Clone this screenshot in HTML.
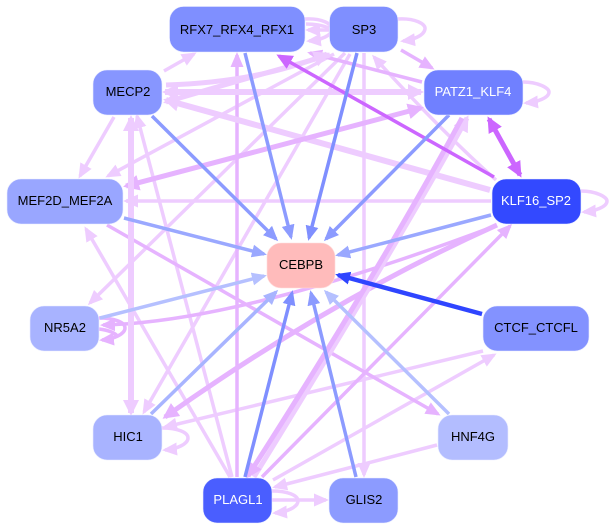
<!DOCTYPE html>
<html><head><meta charset="utf-8"><style>
html,body{margin:0;padding:0;background:#fff}
svg{display:block}
text{font-family:"Liberation Sans",sans-serif;font-size:13px;text-anchor:middle}
.l{stroke:#eeccff}.m{stroke:#e6b3ff}.p{stroke:#cc66ff}
</style></head><body>
<svg width="612" height="530" viewBox="0 0 612 530" xmlns="http://www.w3.org/2000/svg">
<defs>
<marker id="al" markerUnits="userSpaceOnUse" markerWidth="18" markerHeight="16" refX="12" refY="8" orient="auto-start-reverse"><path d="M0 1.500L15 8L0 14.500z" fill="#eeccff"/></marker>
<marker id="am" markerUnits="userSpaceOnUse" markerWidth="18" markerHeight="16" refX="12" refY="8" orient="auto-start-reverse"><path d="M0 1.500L15 8L0 14.500z" fill="#e6b3ff"/></marker>
<marker id="xl" markerUnits="userSpaceOnUse" markerWidth="20" markerHeight="20" refX="13" refY="10" orient="auto-start-reverse"><path d="M0 2L16 10L0 18z" fill="#eeccff"/></marker>
<marker id="xm" markerUnits="userSpaceOnUse" markerWidth="20" markerHeight="20" refX="13" refY="10" orient="auto-start-reverse"><path d="M0 2L16 10L0 18z" fill="#e6b3ff"/></marker>
<marker id="ap" markerUnits="userSpaceOnUse" markerWidth="20" markerHeight="20" refX="13" refY="10" orient="auto-start-reverse"><path d="M0 2.500L16 10L0 17.500z" fill="#cc66ff"/></marker>
<marker id="b1" markerUnits="userSpaceOnUse" markerWidth="18" markerHeight="16" refX="12" refY="8" orient="auto"><path d="M0 1.500L15 8L0 14.500z" fill="#8c9bff"/></marker>
<marker id="b2" markerUnits="userSpaceOnUse" markerWidth="18" markerHeight="16" refX="12" refY="8" orient="auto"><path d="M0 1.500L15 8L0 14.500z" fill="#7f8fff"/></marker>
<marker id="b3" markerUnits="userSpaceOnUse" markerWidth="18" markerHeight="16" refX="12" refY="8" orient="auto"><path d="M0 1.500L15 8L0 14.500z" fill="#9aa8ff"/></marker>
<marker id="b4" markerUnits="userSpaceOnUse" markerWidth="18" markerHeight="16" refX="12" refY="8" orient="auto"><path d="M0 1.500L15 8L0 14.500z" fill="#a8b4ff"/></marker>
<marker id="b5" markerUnits="userSpaceOnUse" markerWidth="18" markerHeight="16" refX="12" refY="8" orient="auto"><path d="M0 1.500L15 8L0 14.500z" fill="#b5c0ff"/></marker>
<marker id="b6" markerUnits="userSpaceOnUse" markerWidth="18" markerHeight="16" refX="12" refY="8" orient="auto"><path d="M0 1.500L15 8L0 14.500z" fill="#2f45ff"/></marker>
</defs>

<!-- pink edges -->
<g stroke-width="3.500" fill="none">
<path class="l" d="M164 71L194 54" marker-end="url(#al)"/>
<path class="l" d="M364 53L364 475" marker-end="url(#al)"/>
<path class="l" d="M114 117L80 176" marker-end="url(#al)"/>
<path class="l" d="M334 54L108 176" marker-end="url(#al)"/>
<path class="l" d="M345 53L90 303" marker-end="url(#al)"/>
<path class="l" d="M350 54L144 412" marker-end="url(#al)"/>
<path class="l" d="M126 201L491 201" marker-start="url(#al)"/>
<path class="l" d="M230 477L86 229" marker-end="url(#al)"/>
<path class="l" d="M137 116L232 477" marker-start="url(#al)"/>
<path class="l" d="M483 351L165 427" marker-end="url(#al)"/>
<path class="l" d="M273 480L494 355" marker-end="url(#al)"/>
<path class="l" d="M437 445L275 487" marker-end="url(#al)"/>
<path class="l" d="M272 500L326 500" marker-end="url(#al)"/>
<path class="l" d="M496 180Q440 130 374 57" marker-end="url(#al)"/>
<path class="m" d="M237 477L237 55" marker-end="url(#am)"/>
<path class="m" d="M422 82L310 53" marker-end="url(#am)"/>
<path class="m" d="M401 50L432 68" marker-end="url(#am)"/>
<path class="m" d="M107 225L438 414" marker-end="url(#am)"/>
<path class="m" d="M262 477L510 226" marker-end="url(#am)"/>
<path class="m" d="M103 325Q240 322 495 226" marker-start="url(#am)"/>
<!-- thick -->
<path class="l" stroke-width="6" d="M165 92L421 92" marker-start="url(#xl)" marker-end="url(#xl)"/>
<path class="l" stroke-width="6" d="M490 190L166 100" marker-end="url(#xl)"/>
<path class="l" stroke-width="5" d="M166 85Q260 82 327 54" marker-end="url(#xl)"/>
<path class="l" stroke-width="5" d="M330 55Q240 80 166 102" marker-end="url(#xl)"/>
<path class="m" stroke-width="5" d="M126 186L421 108" marker-start="url(#xm)" marker-end="url(#xm)"/>
<path class="l" stroke-width="6" d="M131 118L131 413" marker-start="url(#xl)" marker-end="url(#xl)"/>
<path class="m" stroke-width="5" d="M497 225Q330 300 165 417" marker-end="url(#xm)"/>
<path class="l" stroke-width="5" d="M467 118Q400 240 254 477" marker-start="url(#xl)"/>
<path class="m" stroke-width="5" d="M462 118Q380 270 248 476" marker-end="url(#xm)"/>
<!-- self loops -->
<path class="l" d="M398 19C415 18 426 24 425 29C424 36 412 40 403 41" marker-end="url(#al)"/>
<path class="l" d="M523 82C538 82 549 88 549 92C549 98 537 102 526 103" marker-end="url(#al)"/>
<path class="l" d="M581 191C596 191 607 197 607 201C607 207 595 211 584 212" marker-end="url(#al)"/>
<path class="l" d="M162 428C177 428 188 432 188 438C188 444 177 449 165 450" marker-end="url(#al)"/>
<path class="l" d="M272 491C287 491 298 495 298 501C298 507 287 512 275 513" marker-end="url(#al)"/>
<path class="m" d="M99 318C114 318 125 322 125 328C125 334 114 339 102 340" marker-end="url(#am)"/>
<path class="m" d="M99 329C108 330 116 333 118 337"/>
<path class="l" d="M305 19C322 18 332 24 332 29C332 36 320 40 309 41" marker-end="url(#al)"/>
<path class="l" d="M329 30L308 30" marker-end="url(#al)"/>
<path class="l" d="M306 24C315 24 324 26 329 28"/>
<!-- purple -->
<path class="p" stroke-width="3.500" d="M494 177L279 56" marker-end="url(#ap)"/>
<path class="p" stroke-width="5" d="M489 119L520 175" marker-start="url(#ap)" marker-end="url(#ap)"/>
</g>

<!-- blue edges -->
<g stroke-width="3.500" fill="none">
<path stroke="#8c9bff" d="M245 53L291 237" marker-end="url(#b1)"/>
<path stroke="#7f8fff" d="M357 53L309 238" marker-end="url(#b2)"/>
<path stroke="#8c9bff" d="M449 115L326 239" marker-end="url(#b1)"/>
<path stroke="#9aa8ff" d="M491 215L338 255" marker-end="url(#b3)"/>
<path stroke="#2f45ff" stroke-width="4.500" d="M482 314L338 275" marker-end="url(#b6)"/>
<path stroke="#b5c0ff" d="M449 414L326 292" marker-end="url(#b5)"/>
<path stroke="#8c9bff" d="M356 477L311 293" marker-end="url(#b1)"/>
<path stroke="#7f8fff" d="M245 477L292 293" marker-end="url(#b2)"/>
<path stroke="#a8b4ff" d="M151 414L276 292" marker-end="url(#b4)"/>
<path stroke="#b5c0ff" d="M100 318L264 276" marker-end="url(#b5)"/>
<path stroke="#9aa8ff" d="M124 218L264 254" marker-end="url(#b3)"/>
<path stroke="#8c9bff" d="M152 116L276 239" marker-end="url(#b1)"/>
</g>

<!-- nodes -->
<g stroke="#e9ecff" stroke-width="0.600">
<rect x="169.500" y="6.500" width="135.500" height="45.500" rx="14" fill="#7f8fff"/>
<rect x="329.500" y="6.500" width="68.500" height="45.500" rx="14" fill="#7f8fff"/>
<rect x="424" y="70" width="99" height="45" rx="14" fill="#7080ff"/>
<rect x="492" y="179" width="89" height="45" rx="14" fill="#3349ff"/>
<rect x="93" y="70" width="69" height="45" rx="14" fill="#8796ff"/>
<rect x="7" y="179" width="116" height="45" rx="14" fill="#99a6ff"/>
<rect x="267" y="243" width="68" height="45" rx="14" fill="#ffbbbb" stroke="#ffdddd"/>
<rect x="30" y="306" width="69" height="45" rx="14" fill="#a8b3ff"/>
<rect x="93" y="415" width="69" height="45" rx="14" fill="#a8b3ff"/>
<rect x="203" y="478" width="69" height="45" rx="14" fill="#4a5eff"/>
<rect x="329" y="478" width="69" height="45" rx="14" fill="#8c9bff"/>
<rect x="438" y="415" width="70" height="45" rx="14" fill="#b3bdff"/>
<rect x="483" y="306" width="106" height="45" rx="14" fill="#8392ff"/>
</g>
<text x="237" y="34" fill="#000">RFX7_RFX4_RFX1</text>
<text x="364" y="34" fill="#000">SP3</text>
<text x="473" y="96" fill="#fff">PATZ1_KLF4</text>
<text x="536" y="205" fill="#fff">KLF16_SP2</text>
<text x="128" y="96" fill="#000">MECP2</text>
<text x="65" y="205" fill="#000">MEF2D_MEF2A</text>
<text x="301" y="269" fill="#000">CEBPB</text>
<text x="65" y="332" fill="#000">NR5A2</text>
<text x="128" y="441" fill="#000">HIC1</text>
<text x="238" y="504" fill="#fff">PLAGL1</text>
<text x="364" y="504" fill="#000">GLIS2</text>
<text x="473" y="441" fill="#000">HNF4G</text>
<text x="536" y="332" fill="#000">CTCF_CTCFL</text>
</svg>
</body></html>
